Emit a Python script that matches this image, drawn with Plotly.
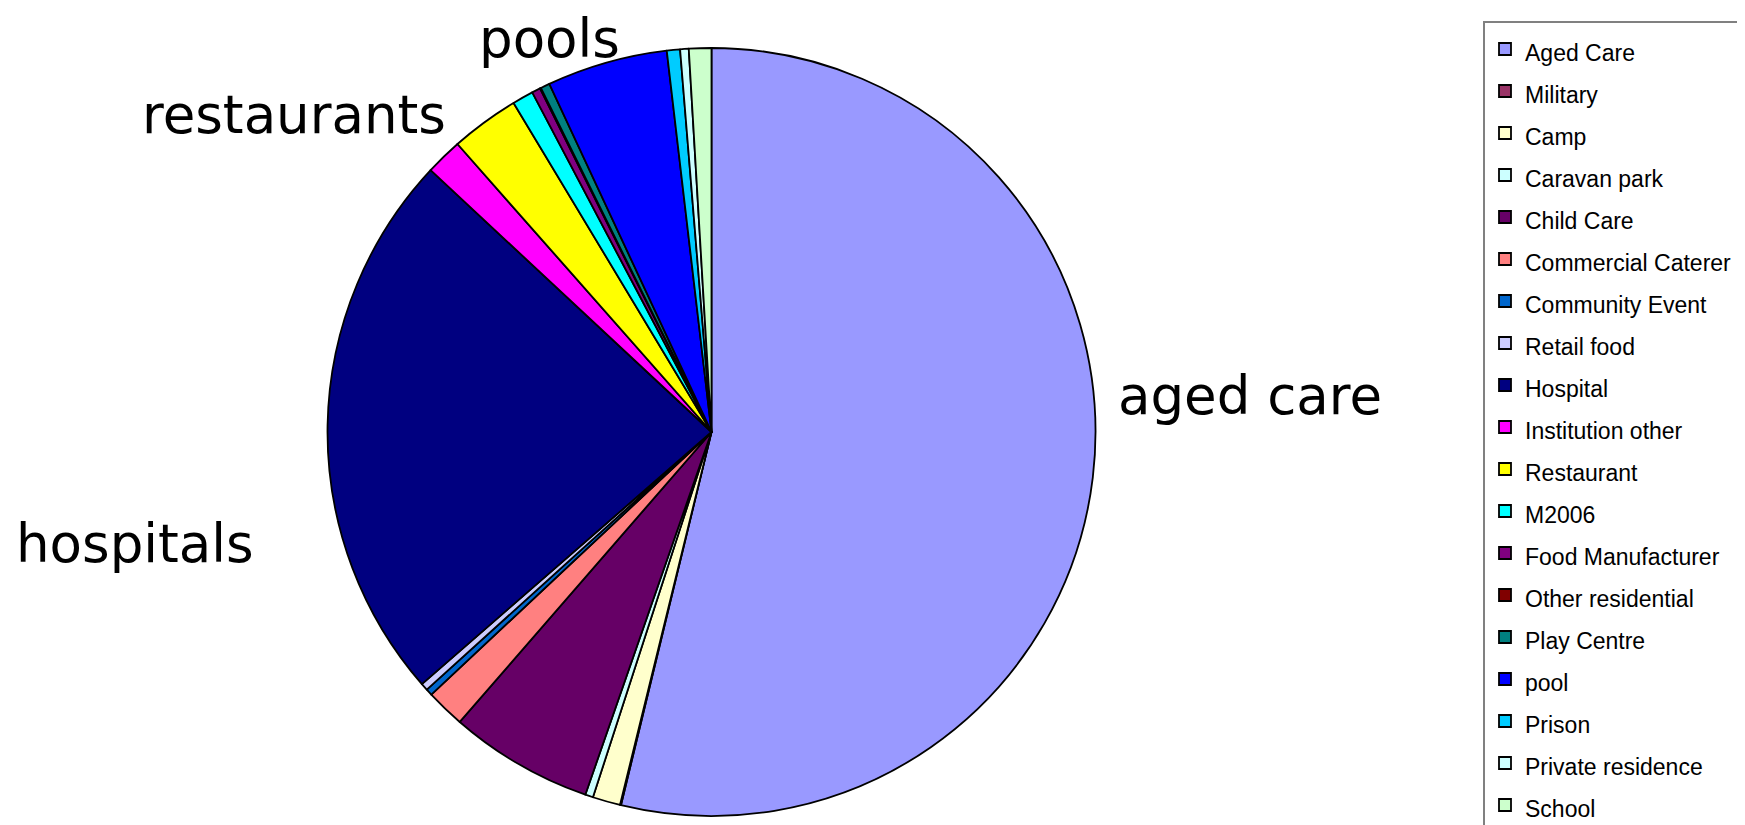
import plotly.graph_objects as go

categories = ["Aged Care", "Military", "Camp", "Caravan park", "Child Care",
              "Commercial Caterer", "Community Event", "Retail food", "Hospital",
              "Institution other", "Restaurant", "M2006", "Food Manufacturer",
              "Other residential", "Play Centre", "pool", "Prison",
              "Private residence", "School"]
values = [193.8, 0.15, 4.2, 1.2, 21.8, 5.9, 1.0, 1.1, 84.1, 5.6, 10.4, 3.2, 1.3,
          0.15, 1.4, 18.3, 2.0, 1.3, 3.4]
colors = ["#9999FF", "#993366", "#FFFFCC", "#CCFFFF", "#660066", "#FF8080",
          "#0066CC", "#CCCCFF", "#000080", "#FF00FF", "#FFFF00", "#00FFFF",
          "#800080", "#800000", "#008080", "#0000FF", "#00CCFF", "#CCFFFF",
          "#CCFFCC"]

callout_text = ["aged care", "hospitals", "restaurants", "pools"]
callout_x = [1242, 127, 286, 541]
callout_y = [387, 535, 107, 30]

W, H = 1745, 825

fig = go.Figure(go.Pie(
    labels=[f'<span style="font-size:23px">{c}</span>' for c in categories],
    values=values,
    sort=False,
    direction="clockwise",
    rotation=0,
    textinfo="none",
    marker=dict(colors=colors, line=dict(color="black", width=1.8)),
    domain=dict(x=[317 / W, 1090 / W], y=[1 - 808 / H, 1 - 40 / H]),
))

for t, x, y in zip(callout_text, callout_x, callout_y):
    fig.add_annotation(text=t, x=x / W, y=1 - y / H, xref="paper", yref="paper",
                       showarrow=False, xanchor="center", yanchor="middle",
                       font=dict(family="DejaVu Sans", size=53, color="black"))

fig.update_layout(
    width=W, height=H,
    margin=dict(l=0, r=0, t=0, b=0),
    paper_bgcolor="white", plot_bgcolor="white",
    font=dict(family="Liberation Sans, Arial", color="black"),
    legend=dict(x=1475 / W, y=1 - 15 / H, xanchor="left", yanchor="top",
                bordercolor="#808080", borderwidth=2, bgcolor="white",
                font=dict(family="Liberation Sans, Arial", size=30, color="black")),
)

fig.write_html("out.html")
